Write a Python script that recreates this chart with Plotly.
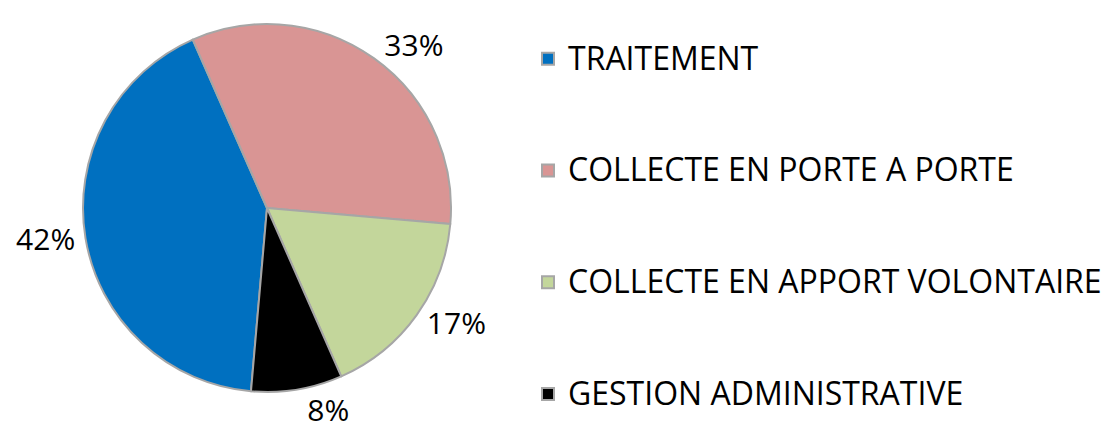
import plotly.graph_objects as go

categories = ["TRAITEMENT", "COLLECTE EN PORTE A PORTE",
              "COLLECTE EN APPORT VOLONTAIRE", "GESTION ADMINISTRATIVE"]
values = [42, 33, 17, 8]
colors = ["#0070C0", "#D99594", "#C3D69B", "#000000"]

W, H = 1112, 432
OFF = 8  # the page body adds an 8px margin; compensate so the layout lands in place
FONT = "Open Sans"
TEXT_SIZE = 32
LABEL_SIZE = 30
LEGEND_BASE = 27.9  # base legend font size controls row spacing

# blank trailing lines give each legend row the reference's tall spacing
legend_labels = [
    f"<span style='font-size:{TEXT_SIZE}px'>{c}</span>"
    + ("<br>\u00a0<br>\u00a0" if i < len(categories) - 1 else "")
    for i, c in enumerate(categories)
]

# pie box in screen pixels: x 82..452, y 24..392 (from top)
px0, px1, py0, py1 = 82 - OFF, 452 - OFF, 24 - OFF, 392 - OFF

fig = go.Figure(
    go.Pie(
        labels=legend_labels,
        values=values,
        sort=False,
        direction="clockwise",
        rotation=185,
        marker=dict(colors=colors, line=dict(color="#A6A6A6", width=2)),
        textinfo="percent",
        texttemplate="%{percent:.0%}",
        textposition="outside",
        outsidetextfont=dict(family=FONT, size=LABEL_SIZE, color="#000000"),
        domain=dict(x=[px0 / W, px1 / W], y=[(H - py1) / H, (H - py0) / H]),
        hoverinfo="label+percent",
    )
)

fig.update_layout(
    width=W,
    height=H,
    margin=dict(l=0, r=0, t=0, b=0, autoexpand=False),
    paper_bgcolor="white",
    plot_bgcolor="white",
    showlegend=True,
    legend=dict(
        x=520 / W,
        xanchor="left",
        y=1 - 26 / H,
        yanchor="top",
        valign="top",
        font=dict(family=FONT, size=LEGEND_BASE, color="#000000"),
        bgcolor="rgba(0,0,0,0)",
    ),
)

fig.write_html("out.html")
